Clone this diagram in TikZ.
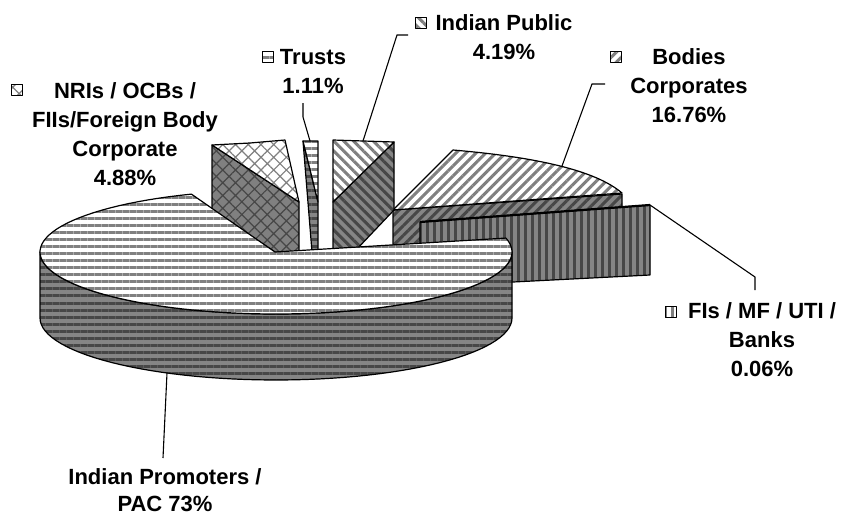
\documentclass[tikz,border=0pt]{standalone}
\usepackage{fontspec}
\setmainfont{Liberation Sans}
\usepackage{tikz}
\usetikzlibrary{patterns.meta}

\begin{document}
\begin{tikzpicture}[x=1pt, y=-1pt,
    lbl/.style={align=center, inner sep=0pt, font=\fontsize{22}{29}\selectfont\bfseries},
    outl/.style={draw=black, line width=1.2pt, line join=round},
    topf/.style={outl, preaction={fill=white}, pattern={Lines[angle=#1,distance=7pt,line width=3pt]}, pattern color=black!50},
    sidef/.style={outl, preaction={fill=black!48}, pattern={Lines[angle=#1,distance=7pt,line width=3pt]}, pattern color=black!72},
    topx/.style={outl, preaction={fill=white}, pattern={Hatch[angle=45,distance=9pt,line width=1.2pt]}, pattern color=black!50},
    sidex/.style={outl, preaction={fill=black!50}, pattern={Hatch[angle=45,distance=9pt,line width=1.2pt]}, pattern color=black!72},
    keybox/.style={line width=0.8pt, minimum size=11pt, inner sep=0pt},
    leader/.style={line width=1.1pt}]

  \useasboundingbox (0,0) rectangle (843,520);

  % slices pulled out of the pie
  \path[sidef=45] (393,210) -- (622,194) -- (622,240) -- (393,255) -- cycle;
  \path[topf=45] (393,210) -- (453,150) .. controls (535,157) and (595,170) .. (622,193) -- cycle;

  \path[sidef=90] (420,222) -- (650,205) -- (650,275) -- (513,282) -- (420,288) -- cycle;
  \draw[line width=2.2pt] (420,222) -- (650,205);

  \path[sidef=-45] (333,202) -- (394,142) -- (394,210) -- (356,250) -- (333,250) -- cycle;
  \path[topf=-45] (333,140) -- (394,142) -- (333,202) -- cycle;

  \path[sidef=0] (303,141) -- (318,202) -- (318,252) -- (312,252) -- cycle;
  \path[topf=0] (303,141) -- (318,141) -- (318,202) -- cycle;

  \path[sidex] (212,145) -- (299,202) -- (299,252) -- (275,252) -- (212,210) -- cycle;
  \path[topx] (212,145) -- (250,143) -- (285,140) -- (299,202) -- cycle;

  % the big slice
  \path[sidef=0] plot[domain=180:360, samples=60] ({276+236*cos(\x)},{252-62*sin(\x)})
    -- plot[domain=360:180, samples=60] ({276+236*cos(\x)},{318-62*sin(\x)}) -- cycle;
  \path[topf=0] (275,252) -- plot[domain=111:373, samples=90] ({276+236*cos(\x)},{252-62*sin(\x)}) -- cycle;

  % labels
  \node[lbl] (lIP) at (504,37) {Indian Public\\4.19\%};
  \node[lbl] (lTr) at (313,72) {Trusts\\1.11\%};
  \node[lbl] (lNRI) at (125,134) {NRIs / OCBs /\\FIIs/Foreign Body\\Corporate\\4.88\%};
  \node[lbl] (lBC) at (689,86) {Bodies\\Corporates\\16.76\%};
  \node[lbl] (lFI) at (762,340) {FIs / MF / UTI /\\Banks\\0.06\%};
  \node[lbl, font=\fontsize{22}{27}\selectfont\bfseries] (lPr) at (165,490) {Indian Promoters /\\PAC 73\%};

  \node[topf=-45, keybox] (kIP) at (421,23) {};
  \node[topf=0, keybox] (kTr) at (268,57) {};
  \node[topx, keybox] (kNRI) at (17,90) {};
  \node[topf=45, keybox] (kBC) at (616,57) {};
  \node[topf=90, keybox] (kFI) at (671,312) {};

  % leader lines
  \coordinate (ipTip) at (363,141);
  \coordinate (ipBend) at (397,35);
  \coordinate (ipEnd) at (408,35);
  \coordinate (trTip) at (310,141);
  \coordinate (trBend) at (303,117);
  \coordinate (trEnd) at (303,103);
  \coordinate (bcTip) at (562,166);
  \coordinate (bcBend) at (592,84);
  \coordinate (bcEnd) at (605,84);
  \coordinate (fiTip) at (650,205);
  \coordinate (fiBend) at (755,277);
  \coordinate (fiEnd) at (755,290);
  \coordinate (prTip) at (167,373);
  \coordinate (prEnd) at (163,458);

  \draw[leader] (ipTip) -- (ipBend) -- (ipEnd);
  \draw[leader] (trTip) -- (trBend) -- (trEnd);
  \draw[leader] (bcTip) -- (bcBend) -- (bcEnd);
  \draw[leader] (fiTip) -- (fiBend) -- (fiEnd);
  \draw[leader] (prTip) -- (prEnd);
\end{tikzpicture}
\end{document}
